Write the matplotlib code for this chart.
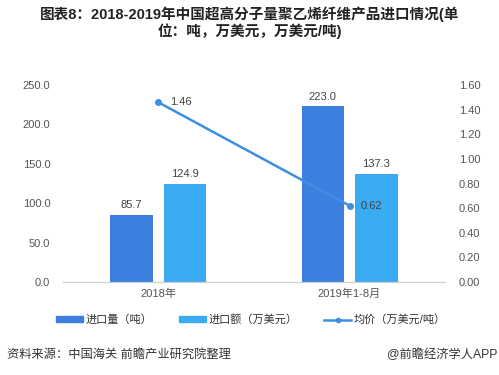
import matplotlib.pyplot as plt
from matplotlib.patches import Patch
from matplotlib.lines import Line2D

plt.rcParams['font.family'] = ['Liberation Sans', 'Noto Sans CJK SC', 'DejaVu Sans']

categories = ['2018年', '2019年1-8月']
volume = [85.7, 223.0]       # 进口量（吨）
amount = [124.9, 137.3]      # 进口额（万美元）
price = [1.46, 0.62]         # 均价（万美元/吨）

c_dark = '#3b7fdf'
c_light = '#3aaaf2'
c_line = '#3d8fe2'
c_text = '#555555'

fig = plt.figure(figsize=(4.99, 3.75), dpi=100)
ax = fig.add_axes([0.126, 0.248, 0.766, 0.525])
ax2 = ax.twinx()

x = list(range(len(categories)))
w = 0.22
off = 0.141
b1 = ax.bar([i - off for i in x], volume, w, color=c_dark)
b2 = ax.bar([i + off for i in x], amount, w, color=c_light)
for rect, v in zip(list(b1) + list(b2), volume + amount):
    ax.text(rect.get_x() + rect.get_width() / 2, v + 6, '%.1f' % v,
            ha='center', va='bottom', fontsize=8, color='#444444')

ax2.plot(x, price, color=c_line, lw=1.8, marker='o', ms=4)
for xi, p in zip(x, price):
    ax2.text(xi + 0.06, p, '%.2f' % p, ha='left', va='center',
             fontsize=8, color='#444444')

ax.set_xlim(-0.5, 1.5)
ax.set_ylim(0, 250)
ax2.set_ylim(0, 1.6)
ax.set_yticks([0, 50, 100, 150, 200, 250])
ax.set_yticklabels(['%.1f' % v for v in [0, 50, 100, 150, 200, 250]])
ax2.set_yticks([i * 0.2 for i in range(9)])
ax2.set_yticklabels(['%.2f' % (i * 0.2) for i in range(9)])
ax.set_xticks(x)
ax.set_xticklabels(categories)

for a in (ax, ax2):
    for s in ['top', 'left', 'right']:
        a.spines[s].set_visible(False)
    a.spines['bottom'].set_color('#d0d0d0')
    a.tick_params(length=0, labelsize=8, colors=c_text)
ax.tick_params(axis='y', pad=9)
ax2.tick_params(axis='y', pad=10)
ax.tick_params(axis='x', pad=5)

fig.text(0.5, 0.963, '图表8：2018-2019年中国超高分子量聚乙烯纤维产品进口情况(单',
         ha='center', va='center', fontsize=10.5, fontweight='bold', color='#222222')
fig.text(0.5, 0.916, '位：吨，万美元，万美元/吨)',
         ha='center', va='center', fontsize=10.5, fontweight='bold', color='#222222')

handles = [Patch(color=c_dark), Patch(color=c_light),
           Line2D([0], [0], color=c_line, lw=1.8, marker='o', ms=3)]
labels = ['进口量（吨）', '进口额（万美元）', '均价（万美元/吨）']
fig.legend(handles, labels, loc='center', bbox_to_anchor=(0.503, 0.147), ncol=3,
           frameon=False, fontsize=8, handlelength=2.4, handleheight=0.45,
           columnspacing=2.4, handletextpad=0.25, labelcolor='#333333')

fig.text(0.014, 0.053, '资料来源：中国海关 前瞻产业研究院整理', ha='left', va='center',
         fontsize=8.8, color='#333333')
fig.text(0.996, 0.053, '@前瞻经济学人APP', ha='right', va='center',
         fontsize=8.8, color='#333333')

fig.savefig('out.png', dpi=100)
